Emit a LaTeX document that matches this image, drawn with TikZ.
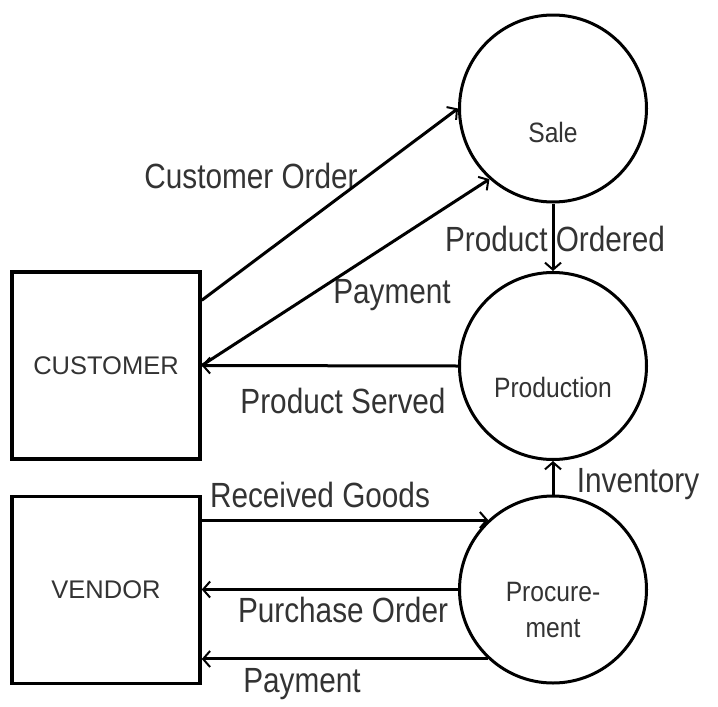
\documentclass[tikz,border=0pt]{standalone}
\usepackage{fontspec}
\setmainfont{Liberation Sans}
\newfontfamily\labfont[FakeStretch=0.85]{Liberation Sans}
\newfontfamily\circfont[FakeStretch=0.88]{Liberation Sans}
\usetikzlibrary{arrows.meta}
\definecolor{txt}{HTML}{333333}
\begin{document}
\begin{tikzpicture}[x=1pt,y=-1pt,
  bubble/.style={circle,draw,line width=3pt,minimum size=187pt,inner sep=0pt},
  entity/.style={rectangle,draw,line width=3.5pt,minimum width=188pt,minimum height=187pt,inner sep=0pt,font=\fontsize{25.5}{30}\selectfont,text=txt},
  ctext/.style={font=\circfont\fontsize{28}{36}\selectfont,text=txt,anchor=base,inner sep=0pt,align=center},
  flow/.style={line width=3pt,-{Straight Barb[length=7pt,width=16pt,line width=2pt]}},
  flab/.style={font=\labfont\fontsize{35}{40}\selectfont,text=txt,anchor=base,inner sep=0pt},
]
\useasboundingbox (0,0) rectangle (718,707);
\fill[white] (0,0) rectangle (718,707);
\node[bubble] (sale) at (553,108.5) {};
\node[bubble] (prod) at (553,366) {};
\node[bubble] (procm) at (553,589.5) {};
\node[entity] (cust) at (106,365.5) {CUSTOMER};
\node[entity] (vend) at (106,590) {VENDOR};
\node[ctext] (saletxt) at (553,142) {Sale};
\node[ctext] (prodtxt) at (553,397) {Production};
\node[ctext] (proctxt) at (553,637) {Procure-\\ment};
\node[flab] (lco) at (251,188) {Customer Order};
\node[flab] (lpay1) at (392,303) {Payment};
\node[flab] (lpo) at (555,251) {Product Ordered};
\node[flab] (lps) at (343,413) {Product Served};
\node[flab] (lrg) at (320,507) {Received Goods};
\node[flab] (linv) at (638,492) {Inventory};
\node[flab] (lpur) at (343,622) {Purchase Order};
\node[flab] (lpay2) at (302,692) {Payment};
\draw[flow] ([yshift=-30pt]cust.north east) -- (sale.west);
\draw[flow] (cust.east) -- (sale.228);
\draw[flow] (prod.west) -- (cust.east);
\draw[flow] (sale.south) -- (prod.north);
\draw[flow] (procm.north) -- (prod.south);
\draw[flow] (vend.east |- procm.133) -- (procm.133);
\draw[flow] (procm.west) -- (vend.east |- procm.west);
\draw[flow] (procm.227) -- (vend.east |- procm.227);
\end{tikzpicture}
\end{document}
